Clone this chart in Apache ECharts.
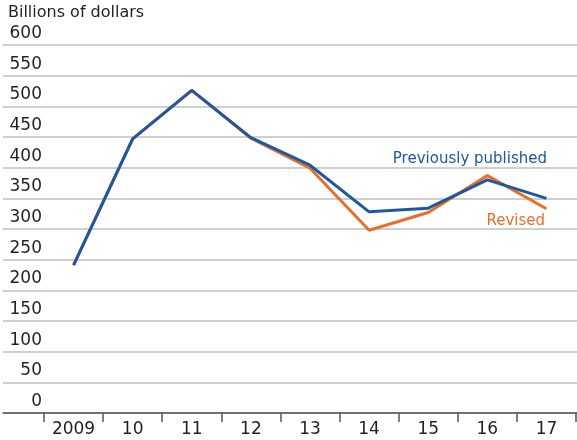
<!DOCTYPE html>
<html>
<head>
<meta charset="utf-8">
<script src="https://cdn.jsdelivr.net/npm/echarts@6/dist/echarts.min.js"></script>
<style>
html,body{margin:0;padding:0;background:#fff;}
#c{width:577px;height:440px;}
</style>
</head>
<body>
<div id="c"></div>
<script>
const categories = ['2009','10','11','12','13','14','15','16','17'];
const previouslyPublished = [241, 447, 526, 449, 404, 328, 334, 380, 350];
const revised = [241, 447, 526, 448, 399, 298, 327, 387, 333];
const yTicks = [0,50,100,150,200,250,300,350,400,450,500,550,600];

const FONT = 'DejaVu Sans';
const chart = echarts.init(document.getElementById('c'));
chart.setOption({
  animation: false,
  backgroundColor: '#fff',
  title: {
    text: 'Billions of dollars',
    left: 3, top: 0,
    textStyle: {fontFamily: FONT, fontSize: 16, fontWeight: 'normal', color: '#231f20'}
  },
  grid: [
    {left: 3, right: 0, top: 45, bottom: 27},
    {left: 44, right: 1, top: 45, bottom: 27}
  ],
  xAxis: [
    {gridIndex: 0, type: 'value', min: 0, max: 1,
     axisLine: {show: true, onZero: false, lineStyle: {color: '#555', width: 1.5}},
     axisTick: {show: false}, axisLabel: {show: false}, splitLine: {show: false}},
    {gridIndex: 1, type: 'category', data: categories, boundaryGap: true,
     axisLine: {show: false},
     axisTick: {show: true, length: 9, lineStyle: {color: '#555', width: 1.5}},
     axisLabel: {margin: 8, fontFamily: FONT, fontSize: 17, color: '#231f20'},
     splitLine: {show: false}}
  ],
  yAxis: [
    {gridIndex: 0, type: 'value', min: yTicks[0], max: yTicks[yTicks.length-1], interval: 50,
     axisLine: {show: false}, axisTick: {show: false},
     axisLabel: {inside: true, margin: 39, align: 'right', verticalAlign: 'bottom',
       padding: [0,0,3,0], fontFamily: FONT, fontSize: 17, color: '#231f20'},
     splitLine: {show: true, lineStyle: {color: '#cfcfcf', width: 2}}},
    {gridIndex: 1, type: 'value', min: 0, max: 600, show: false, splitLine: {show: false}}
  ],
  series: [
    {name: 'Revised', type: 'line', xAxisIndex: 1, yAxisIndex: 1, data: revised,
     symbol: 'none', lineStyle: {color: '#e5702a', width: 3}, z: 3},
    {name: 'Previously published', type: 'line', xAxisIndex: 1, yAxisIndex: 1, data: previouslyPublished,
     symbol: 'none', lineStyle: {color: '#1d58a0', width: 3}, z: 4}
  ],
  graphic: [
    {type: 'text', right: 30, top: 152,
     style: {text: 'Previously published', fontFamily: FONT, fontSize: 15, fill: '#1d58a0'}},
    {type: 'text', right: 32, top: 214,
     style: {text: 'Revised', fontFamily: FONT, fontSize: 15, fill: '#e5702a'}}
  ]
});
</script>
</body>
</html>
